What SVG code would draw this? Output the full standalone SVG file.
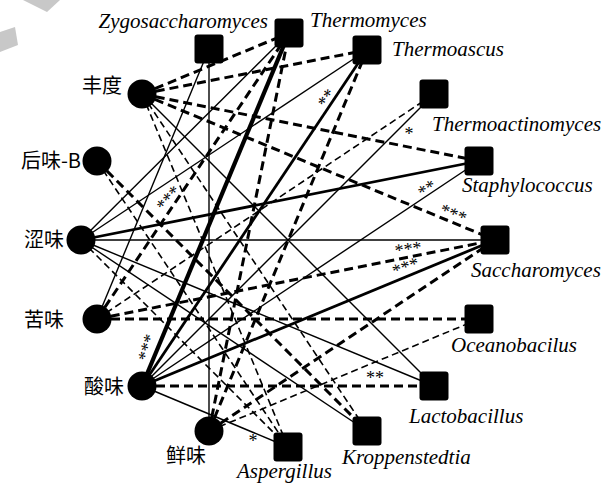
<svg xmlns="http://www.w3.org/2000/svg" width="603" height="483" viewBox="0 0 603 483">
<style>
.e{fill:none;stroke:#000;stroke-linecap:butt}
.s1{stroke-width:1.4}
.s2{stroke-width:2.8}
.s3{stroke-width:4.2}
.d1{stroke-width:1.6;stroke-dasharray:7 4}
.d2{stroke-width:3;stroke-dasharray:9 5}
.c{fill:#000}
.q{fill:#000}
.lat{font-style:italic;font-size:21px;fill:#000}
.zh{font-family:'Noto Sans CJK SC','Noto Sans',sans-serif;font-size:20px;fill:#000}
.st{font-size:18px;fill:#000;text-anchor:middle}
</style>
<rect width="603" height="483" fill="#fff"/>
<g id="watermark" fill="#c8c8c8">
<polygon points="23,0 60,0 47,12"/>
<polygon points="0,32 15,27 18,45 0,52"/>
</g>
<g id="connectors">
<line class="e d2" x1="142" y1="94" x2="289" y2="33"/>
<line class="e d2" x1="142" y1="94" x2="367" y2="50"/>
<line class="e d2" x1="142" y1="94" x2="479" y2="161"/>
<line class="e d2" x1="142" y1="94" x2="495" y2="240"/>
<line class="e s1" x1="142" y1="94" x2="434" y2="386"/>
<line class="e d1" x1="142" y1="94" x2="367" y2="431"/>
<line class="e d1" x1="142" y1="94" x2="288" y2="447"/>
<line class="e d2" x1="97" y1="161" x2="367" y2="431"/>
<line class="e d1" x1="97" y1="161" x2="288" y2="447"/>
<line class="e s1" x1="81" y1="240" x2="289" y2="33"/>
<line class="e s1" x1="81" y1="240" x2="367" y2="50"/>
<line class="e s2" x1="81" y1="240" x2="479" y2="161"/>
<line class="e s1" x1="81" y1="240" x2="495" y2="240"/>
<line class="e s1" x1="81" y1="240" x2="434" y2="386"/>
<line class="e s1" x1="81" y1="240" x2="367" y2="431"/>
<line class="e d1" x1="81" y1="240" x2="288" y2="447"/>
<line class="e s1" x1="97" y1="319" x2="209" y2="49"/>
<line class="e d2" x1="97" y1="319" x2="289" y2="33"/>
<line class="e d1" x1="97" y1="319" x2="434" y2="94"/>
<line class="e d2" x1="97" y1="319" x2="495" y2="240"/>
<line class="e d2" x1="97" y1="319" x2="479" y2="319"/>
<line class="e s3" x1="142" y1="386" x2="289" y2="33"/>
<line class="e s2" x1="142" y1="386" x2="367" y2="50"/>
<line class="e s1" x1="142" y1="386" x2="434" y2="94"/>
<line class="e s1" x1="142" y1="386" x2="479" y2="161"/>
<line class="e s2" x1="142" y1="386" x2="495" y2="240"/>
<line class="e d2" x1="142" y1="386" x2="434" y2="386"/>
<line class="e s1" x1="142" y1="386" x2="288" y2="447"/>
<line class="e s1" x1="209" y1="431" x2="209" y2="49"/>
<line class="e d2" x1="209" y1="431" x2="289" y2="33"/>
<line class="e d2" x1="209" y1="431" x2="367" y2="50"/>
<line class="e d2" x1="209" y1="431" x2="495" y2="240"/>
<line class="e d1" x1="209" y1="431" x2="479" y2="319"/>
</g>
<g id="n-fengdu"><circle class="c" cx="142" cy="94" r="14.5"/><text class="zh" x="122" y="93" text-anchor="end">丰度</text></g>
<g id="n-houwei"><circle class="c" cx="97" cy="161" r="14.5"/><text class="zh" x="81" y="168" text-anchor="end">后味-B</text></g>
<g id="n-sewei"><circle class="c" cx="81" cy="240" r="14.5"/><text class="zh" x="64" y="247" text-anchor="end">涩味</text></g>
<g id="n-kuwei"><circle class="c" cx="97" cy="319" r="14.5"/><text class="zh" x="64" y="327" text-anchor="end">苦味</text></g>
<g id="n-suanwei"><circle class="c" cx="142" cy="386" r="14.5"/><text class="zh" x="124" y="394" text-anchor="end">酸味</text></g>
<g id="n-xianwei"><circle class="c" cx="209" cy="431" r="14.5"/><text class="zh" x="206" y="463" text-anchor="end">鲜味</text></g>
<g font-family="Liberation Serif, serif">
<g id="n-zygo"><rect class="q" x="194.5" y="34.5" width="29" height="29" rx="3"/><text class="lat" x="268" y="28" text-anchor="end">Zygosaccharomyces</text></g>
<g id="n-thermomyces"><rect class="q" x="274.5" y="18.5" width="29" height="29" rx="3"/><text class="lat" x="310" y="27">Thermomyces</text></g>
<g id="n-thermoascus"><rect class="q" x="352.5" y="35.5" width="29" height="29" rx="3"/><text class="lat" x="392" y="56">Thermoascus</text></g>
<g id="n-thermoactinomyces"><rect class="q" x="419.5" y="79.5" width="29" height="29" rx="3"/><text class="lat" x="432" y="131">Thermoactinomyces</text></g>
<g id="n-staphylococcus"><rect class="q" x="464.5" y="146.5" width="29" height="29" rx="3"/><text class="lat" x="462" y="192">Staphylococcus</text></g>
<g id="n-saccharomyces"><rect class="q" x="480.5" y="225.5" width="29" height="29" rx="3"/><text class="lat" x="471" y="277">Saccharomyces</text></g>
<g id="n-oceanobacilus"><rect class="q" x="464.5" y="304.5" width="29" height="29" rx="3"/><text class="lat" x="451" y="352">Oceanobacilus</text></g>
<g id="n-lactobacillus"><rect class="q" x="419.5" y="371.5" width="29" height="29" rx="3"/><text class="lat" x="409" y="423">Lactobacillus</text></g>
<g id="n-kroppenstedtia"><rect class="q" x="352.5" y="416.5" width="29" height="29" rx="3"/><text class="lat" x="342" y="464">Kroppenstedtia</text></g>
<g id="n-aspergillus"><rect class="q" x="273.5" y="432.5" width="29" height="29" rx="3"/><text class="lat" x="237" y="478">Aspergillus</text></g>
<g id="labels">
<text class="st" transform="translate(325,97) rotate(-56)" y="8">**</text>
<text class="st" x="409" y="140">*</text>
<text class="st" transform="translate(426,187) rotate(-34)" y="8">**</text>
<text class="st" transform="translate(454,212) rotate(22)" y="8">***</text>
<text class="st" transform="translate(408,247) rotate(-8)" y="8">***</text>
<text class="st" transform="translate(405,265) rotate(-20)" y="8">***</text>
<text class="st" x="375" y="384">**</text>
<text class="st" x="253" y="447">*</text>
<text class="st" transform="translate(145,347) rotate(-74)" y="8">***</text>
<text class="st" transform="translate(167,197) rotate(-48)" y="8">***</text>
</g>
</g>
</svg>
